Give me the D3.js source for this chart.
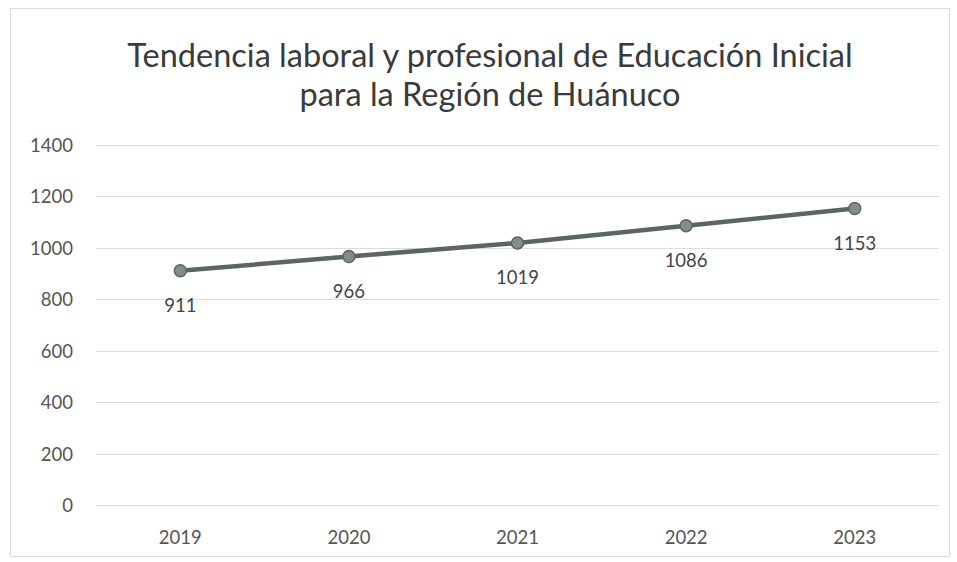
<!DOCTYPE html>
<html>
<head>
<meta charset="utf-8">
<script src="https://cdn.jsdelivr.net/npm/d3@7"></script>
<style>
  html, body { margin: 0; padding: 0; background: #ffffff; }
  svg { display: block; }
</style>
</head>
<body>
<svg id="chart" width="957" height="562"></svg>
<script>
// Data
const years = ["2019", "2020", "2021", "2022", "2023"];
const values = [911, 966, 1019, 1086, 1153];
const yTicks = [0, 200, 400, 600, 800, 1000, 1200, 1400];
const titleLines = ["Tendencia laboral y profesional de Educación Inicial", "para la Región de Huánuco"];

const W = 957, H = 562;
const margin = { top: 145, right: 18, bottom: 57, left: 96 };
const svg = d3.select("#chart");
const font = "Lato, 'Open Sans', sans-serif";

// Chart frame
svg.append("rect")
  .attr("x", 10.5).attr("y", 8.5)
  .attr("width", 939).attr("height", 548)
  .attr("fill", "#fff")
  .attr("stroke", "#dcdcdc")
  .attr("stroke-width", 1);

const x = d3.scaleBand()
  .domain(years)
  .range([margin.left, W - margin.right]);

const y = d3.scaleLinear()
  .domain([0, 1400])
  .range([H - margin.bottom, margin.top]);

// Horizontal gridlines
svg.append("g")
  .selectAll("line")
  .data(yTicks)
  .join("line")
  .attr("x1", margin.left)
  .attr("x2", W - margin.right)
  .attr("y1", d => Math.round(y(d)) + 0.5)
  .attr("y2", d => Math.round(y(d)) + 0.5)
  .attr("stroke", "#dcdcdc")
  .attr("stroke-width", 1.2);

// Y axis labels
const yAxis = d3.axisLeft(y).tickValues(yTicks).tickFormat(d3.format("d")).tickSize(0).tickPadding(0);
const gy = svg.append("g")
  .attr("transform", `translate(${margin.left - 23},0)`)
  .call(yAxis);
gy.select(".domain").remove();
gy.selectAll("text")
  .attr("font-family", font)
  .attr("font-size", 18.5)
  .attr("fill", "#555")
  .attr("dy", "0.35em");

// X axis labels
const xAxis = d3.axisBottom(x).tickSize(0).tickPadding(0);
const gx = svg.append("g")
  .attr("transform", `translate(0,${H - margin.bottom + 26})`)
  .call(xAxis);
gx.select(".domain").remove();
gx.selectAll("text")
  .attr("font-family", font)
  .attr("font-size", 18.5)
  .attr("fill", "#555")
  .attr("dy", "0.7em");

// Title
svg.append("text")
  .attr("x", 490)
  .attr("y", 67)
  .attr("text-anchor", "middle")
  .attr("font-family", font)
  .attr("font-size", 32.5)
  .attr("fill", "#3a3a3a")
  .selectAll("tspan")
  .data(titleLines)
  .join("tspan")
  .attr("x", 490)
  .attr("dy", (d, i) => i === 0 ? 0 : 39)
  .text(d => d);

const cx = d => x(d) + x.bandwidth() / 2;
const pts = years.map((yr, i) => ({ year: yr, value: values[i] }));

// Series line
svg.append("path")
  .datum(pts)
  .attr("fill", "none")
  .attr("stroke", "#5b6661")
  .attr("stroke-width", 4.5)
  .attr("stroke-linejoin", "round")
  .attr("d", d3.line().x(d => cx(d.year)).y(d => y(d.value)));

// Markers
svg.append("g")
  .selectAll("circle")
  .data(pts)
  .join("circle")
  .attr("cx", d => cx(d.year))
  .attr("cy", d => y(d.value))
  .attr("r", 6)
  .attr("fill", "#838d88")
  .attr("stroke", "#5b6661")
  .attr("stroke-width", 1.5);

// Value labels below each point
svg.append("g")
  .selectAll("text")
  .data(pts)
  .join("text")
  .attr("x", d => cx(d.year))
  .attr("y", d => y(d.value) + 41)
  .attr("text-anchor", "middle")
  .attr("font-family", font)
  .attr("font-size", 18.5)
  .attr("fill", "#444")
  .text(d => d.value);
</script>
</body>
</html>
